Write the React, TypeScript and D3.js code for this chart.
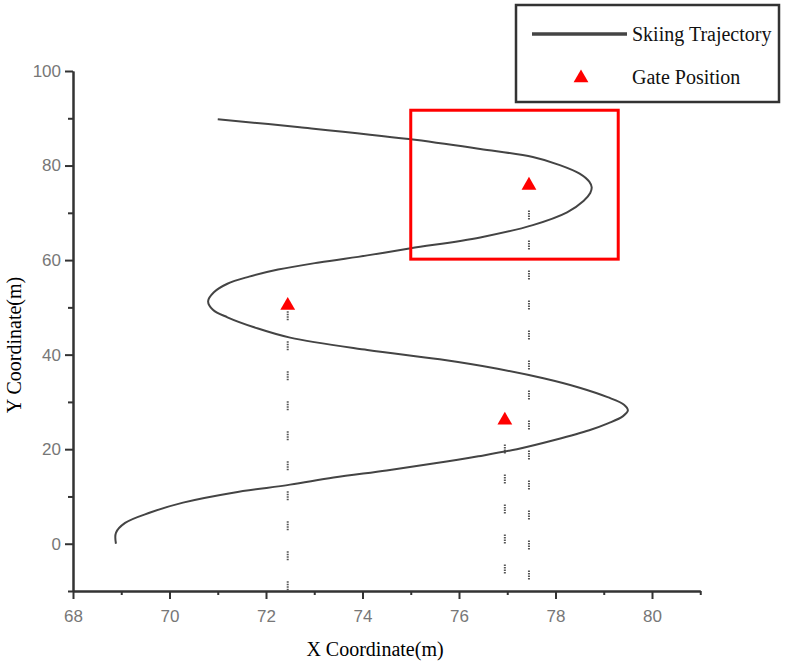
import React, { useEffect, useRef } from "react";
import * as d3 from "d3";

// trajectory, ordered from start (bottom) to end (top)
const trajY = [0, 2.3, 4.4, 6.6, 8.7, 10.8, 12.5, 14.0, 15.5, 17.0, 18.5, 20.0, 22.0, 24.0, 25.5, 27.0, 28.2, 29.4, 31.0, 33.0, 35.0, 37.0, 39.0, 41.0, 43.6, 45.6, 47.9, 49.5, 51.3, 53.2, 55.0, 56.5, 58.0, 59.5, 61.0, 62.5, 64.8, 67.4, 70.1, 72.5, 74.2, 75.4, 76.6, 78.3, 80.1, 81.8, 83.5, 85.6, 88.1, 89.8];
const trajX = [68.89, 68.89, 69.08, 69.6, 70.28, 71.32, 72.5, 73.4, 74.5, 75.5, 76.4, 77.2, 78.0, 78.7, 79.1, 79.4, 79.5, 79.42, 79.08, 78.5, 77.75, 76.8, 75.6, 74.1, 72.5, 71.81, 71.2, 70.9, 70.8, 70.92, 71.2, 71.65, 72.25, 73.1, 74.1, 75.0, 76.44, 77.53, 78.24, 78.58, 78.72, 78.75, 78.7, 78.5, 78.09, 77.53, 76.44, 74.96, 72.7, 71.0];

const gateX = [72.45, 76.95, 77.45];
const gateY = [50.4, 26.1, 75.8];
const gateLineTop = [49.2, 21.0, 70.5];

const xMajor = [68, 70, 72, 74, 76, 78, 80];
const xMinor = [69, 71, 73, 75, 77, 79, 81];
const yMajor = [0, 20, 40, 60, 80, 100];
const yMinor = [-10, 10, 30, 50, 70, 90];

// highlighted region
const boxX = [75, 79.3];
const boxY = [60.2, 91.7];

const legendLabels = ["Skiing Trajectory", "Gate Position"];

export default function App() {
  const svgRef = useRef<SVGSVGElement>(null);

  useEffect(() => {
    const svg = d3.select(svgRef.current);
    svg.selectAll("*").remove();

    const x = d3.scaleLinear().domain([68, 81]).range([73, 700.25]);
    const y = d3.scaleLinear().domain([-10, 100]).range([591, 71]);

    const tickFont = "'Liberation Sans', Arial, sans-serif";
    const serif = "'Liberation Serif', 'Times New Roman', serif";

    // x axis
    const gx = svg.append("g").attr("transform", `translate(0,${y(-10)})`);
    gx.call(d3.axisBottom(x).tickValues(xMajor).tickSize(8).tickSizeOuter(0).tickFormat(d3.format("d")));
    gx.append("g").call(d3.axisBottom(x).tickValues(xMinor).tickSize(4).tickSizeOuter(0).tickFormat(() => ""));
    gx.selectAll("path").attr("stroke", "#333").attr("stroke-width", 2);
    gx.selectAll("line").attr("stroke", "#333").attr("stroke-width", 2);
    gx.selectAll("text")
      .attr("font-family", tickFont)
      .attr("font-size", 17)
      .attr("fill", "#777")
      .attr("dy", "1.2em");

    // y axis
    const gy = svg.append("g").attr("transform", `translate(${x(68)},0)`);
    gy.call(d3.axisLeft(y).tickValues(yMajor).tickSize(8).tickSizeOuter(0).tickFormat(d3.format("d")));
    gy.append("g").call(d3.axisLeft(y).tickValues(yMinor).tickSize(5).tickSizeOuter(0).tickFormat(() => ""));
    gy.selectAll("path").attr("stroke", "#333").attr("stroke-width", 2);
    gy.selectAll("line").attr("stroke", "#333").attr("stroke-width", 2);
    gy.selectAll("text")
      .attr("font-family", tickFont)
      .attr("font-size", 17)
      .attr("fill", "#777")
      .attr("x", -12);

    // axis titles
    svg.append("text")
      .attr("x", 375)
      .attr("y", 656)
      .attr("text-anchor", "middle")
      .attr("font-family", serif)
      .attr("font-size", 20)
      .attr("fill", "#000")
      .text("X Coordinate(m)");

    svg.append("text")
      .attr("transform", `translate(21,345) rotate(-90)`)
      .attr("text-anchor", "middle")
      .attr("font-family", serif)
      .attr("font-size", 20)
      .attr("fill", "#000")
      .text("Y Coordinate(m)");

    // dotted gate lines
    svg.selectAll(".gline")
      .data(gateX)
      .enter()
      .append("line")
      .attr("x1", (d) => x(d))
      .attr("x2", (d) => x(d))
      .attr("y1", (d, i) => y(gateLineTop[i]))
      .attr("y2", y(-10))
      .attr("stroke", "#555")
      .attr("stroke-width", 2)
      .attr("stroke-dasharray", "1.5,1,1.5,1,1.5,1,1.5,21");

    // trajectory
    const pts = trajX.map((d, i) => [d, trajY[i]] as [number, number]);
    const line = d3
      .line<[number, number]>()
      .x((d) => x(d[0]))
      .y((d) => y(d[1]))
      .curve(d3.curveCatmullRom.alpha(0.5));
    svg.append("path")
      .attr("d", line(pts))
      .attr("fill", "none")
      .attr("stroke", "#444")
      .attr("stroke-width", 2);

    // gates
    const tri = d3.symbol().type(d3.symbolTriangle).size(95);
    svg.selectAll(".gate")
      .data(gateX)
      .enter()
      .append("path")
      .attr("d", tri)
      .attr("transform", (d, i) => `translate(${x(d)},${y(gateY[i])})`)
      .attr("fill", "#ff0000");

    // red highlight box
    svg.append("rect")
      .attr("x", x(boxX[0]))
      .attr("y", y(boxY[1]))
      .attr("width", x(boxX[1]) - x(boxX[0]))
      .attr("height", y(boxY[0]) - y(boxY[1]))
      .attr("fill", "none")
      .attr("stroke", "#ff0000")
      .attr("stroke-width", 3);

    // legend
    const lg = svg.append("g");
    lg.append("rect")
      .attr("x", 516)
      .attr("y", 5)
      .attr("width", 263)
      .attr("height", 97)
      .attr("fill", "#fff")
      .attr("stroke", "#333")
      .attr("stroke-width", 2.5);
    lg.append("line")
      .attr("x1", 532)
      .attr("x2", 627)
      .attr("y1", 34)
      .attr("y2", 34)
      .attr("stroke", "#444")
      .attr("stroke-width", 3.5);
    lg.append("path")
      .attr("d", tri)
      .attr("transform", "translate(581,78)")
      .attr("fill", "#ff0000");
    lg.selectAll("text")
      .data(legendLabels)
      .enter()
      .append("text")
      .attr("x", 632)
      .attr("y", (d, i) => (i === 0 ? 41 : 84))
      .attr("font-family", serif)
      .attr("font-size", 20)
      .attr("fill", "#111")
      .text((d) => d);
  }, []);

  return (
    <svg
      ref={svgRef}
      width={788}
      height={663}
      style={{ position: "absolute", left: 0, top: 0, background: "#fff" }}
    ></svg>
  );
}
